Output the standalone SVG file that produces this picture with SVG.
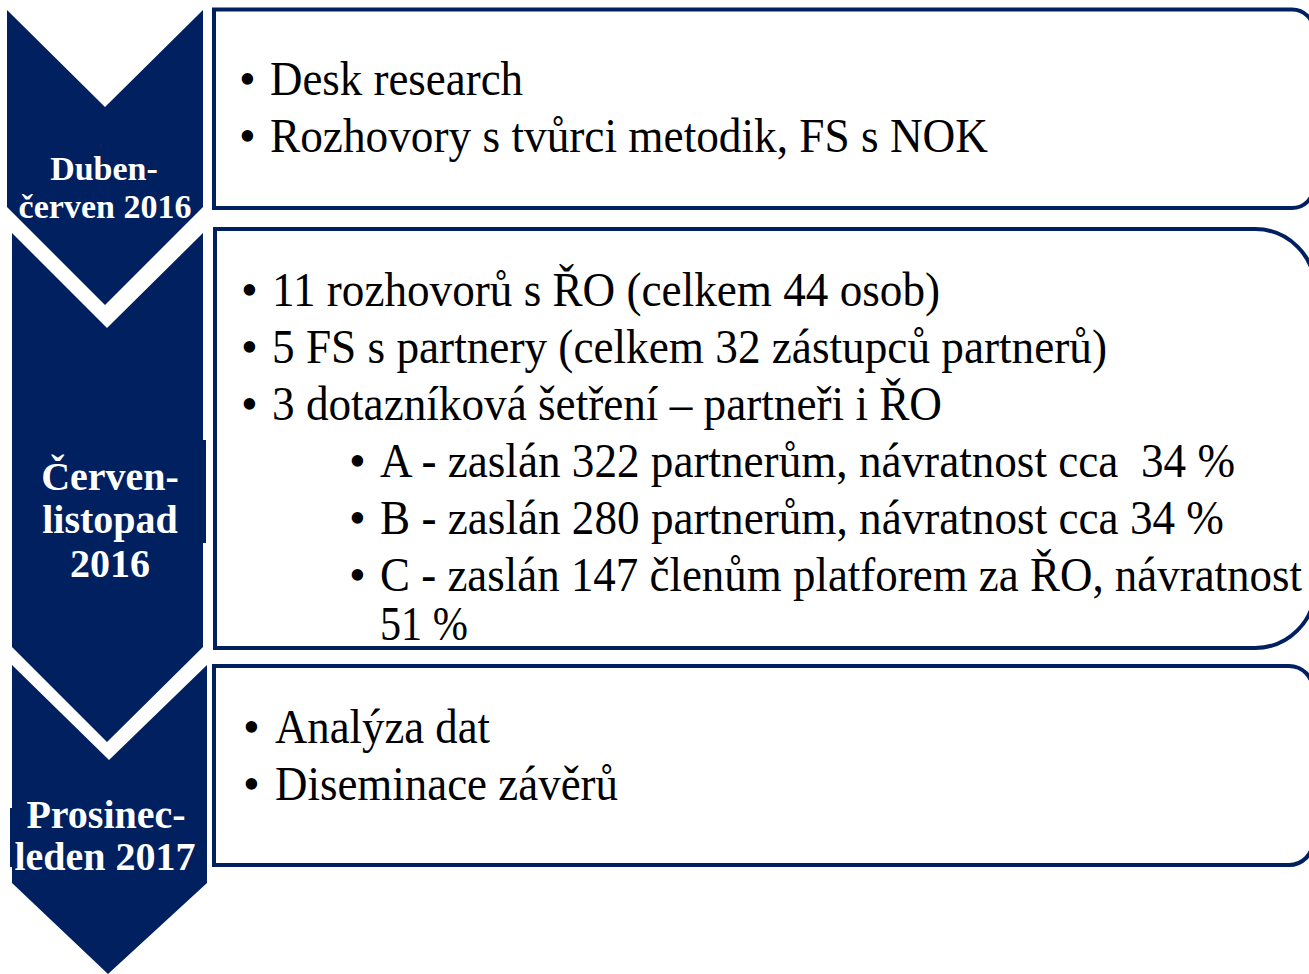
<svg xmlns="http://www.w3.org/2000/svg" width="1309" height="974" viewBox="0 0 1309 974">
<style>
.chev{fill:#002060}
.box{fill:#ffffff;stroke:#002060;stroke-width:4}
.lbl{font-family:"Liberation Serif","Times New Roman",serif;font-weight:bold;fill:#ffffff;text-anchor:middle}
.t{font-family:"Liberation Serif","Times New Roman",serif;font-size:48px;fill:#000000}
</style>
<rect width="1309" height="974" fill="#ffffff"/>
<g id="chevron1">
<polygon class="chev" points="7,10 105,107 203,10 203,207 105,305 7,207"/>
<text class="lbl" font-size="34" x="104" y="180">Duben-</text>
<text class="lbl" font-size="34" x="105" y="218">červen 2016</text>
</g>
<g id="chevron2">
<polygon class="chev" points="12,233 107,328 203,233 203,647 107,742 12,647"/>
<rect class="chev" x="202" y="440" width="4" height="103"/>
<text class="lbl" font-size="40" x="110" y="490">Červen-</text>
<text class="lbl" font-size="40" x="110" y="533">listopad</text>
<text class="lbl" font-size="40" x="110" y="577">2016</text>
</g>
<g id="chevron3">
<polygon class="chev" points="12,665 109,760 207,665 207,883 108,974 12,883"/>
<rect class="chev" x="10" y="808" width="4" height="59"/>
<text class="lbl" font-size="40" x="106" y="828">Prosinec-</text>
<text class="lbl" font-size="40" x="105" y="870">leden 2017</text>
</g>
<g id="box1">
<path class="box" d="M214,9.5 H1292 A22,22 0 0 1 1314,31.5 V186 A22,22 0 0 1 1292,208 H214 Z"/>
<text class="t" x="239" y="95">•</text>
<text class="t" x="270" y="95" textLength="253" lengthAdjust="spacingAndGlyphs">Desk research</text>
<text class="t" x="239" y="152">•</text>
<text class="t" x="270" y="152" textLength="718" lengthAdjust="spacingAndGlyphs">Rozhovory s tvůrci metodik, FS s NOK</text>
</g>
<g id="box2">
<path class="box" d="M215,229 H1255 A60,60 0 0 1 1315,289 V588 A60,60 0 0 1 1255,648 H215 Z"/>
<text class="t" x="241" y="306">•</text>
<text class="t" x="272" y="306" textLength="668" lengthAdjust="spacingAndGlyphs">11 rozhovorů s ŘO (celkem 44 osob)</text>
<text class="t" x="241" y="363">•</text>
<text class="t" x="272" y="363" textLength="835" lengthAdjust="spacingAndGlyphs">5 FS s partnery (celkem 32 zástupců partnerů)</text>
<text class="t" x="241" y="420">•</text>
<text class="t" x="272" y="420" textLength="670" lengthAdjust="spacingAndGlyphs">3 dotazníková šetření – partneři i ŘO</text>
<text class="t" x="349" y="477">•</text>
<text class="t" x="380" y="477" textLength="855" lengthAdjust="spacingAndGlyphs" xml:space="preserve">A - zaslán 322 partnerům, návratnost cca  34 %</text>
<text class="t" x="349" y="534">•</text>
<text class="t" x="380" y="534" textLength="844" lengthAdjust="spacingAndGlyphs">B - zaslán 280 partnerům, návratnost cca 34 %</text>
<text class="t" x="349" y="591">•</text>
<text class="t" x="380" y="591" font-size="45" textLength="922" lengthAdjust="spacingAndGlyphs">C - zaslán 147 členům platforem za ŘO, návratnost</text>
<text class="t" x="380" y="640" textLength="88" lengthAdjust="spacingAndGlyphs">51 %</text>
</g>
<g id="box3">
<path class="box" d="M214,666 H1289 A24,24 0 0 1 1313,690 V841 A24,24 0 0 1 1289,865 H214 Z"/>
<text class="t" x="243" y="743">•</text>
<text class="t" x="275" y="743" textLength="215" lengthAdjust="spacingAndGlyphs">Analýza dat</text>
<text class="t" x="243" y="800">•</text>
<text class="t" x="275" y="800" textLength="343" lengthAdjust="spacingAndGlyphs">Diseminace závěrů</text>
</g>
<g id="connectors"></g>
</svg>
